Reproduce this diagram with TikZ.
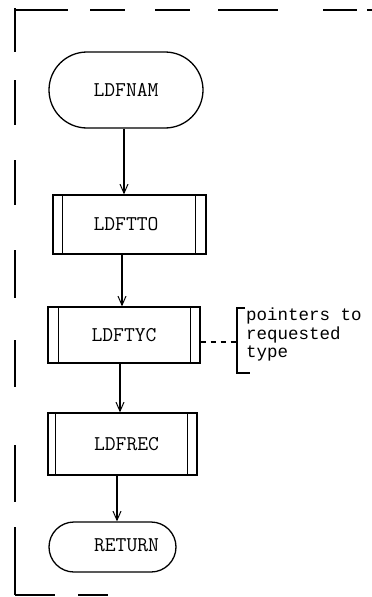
\documentclass[tikz,border=0pt]{standalone}
\usepackage{fontspec}
\newfontfamily\notefont{Liberation Mono}
\usetikzlibrary{shapes.misc,arrows.meta}
\begin{document}
\begin{tikzpicture}[x=1pt,y=-1pt,
  labelfont/.style={font=\fontsize{21}{21}\selectfont\ttfamily},
  term/.style={rounded rectangle, draw, line width=1.3pt, inner sep=0pt, labelfont},
  proc/.style={rectangle, draw, line width=1.3pt, inner sep=0pt, labelfont},
  strip/.style={line width=1.1pt},
  flow/.style={line width=1.1pt, -{Straight Barb[length=9pt,width=8pt,line width=1pt]}},
  frame/.style={line width=1.2pt},
  note/.style={font=\fontsize{17.5}{18.5}\selectfont\notefont, align=left, inner sep=0pt}]
\useasboundingbox (0,0) rectangle (372,597);

% dashed frame round the chart
\draw[frame, dash pattern=on 53pt off 22pt on 35pt off 30pt on 35pt off 28pt on 60pt off 45pt on 34pt off 10pt on 10pt]
  (15,10) -- (372,10);
\draw[frame, dash pattern=on 44pt off 28pt on 45pt off 35pt on 45pt off 45pt on 48pt off 42pt on 47pt off 58pt on 57pt off 25pt on 70pt]
  (15,8) -- (15,595);
\draw[frame, dash pattern=on 40pt off 23pt on 30pt off 300pt] (15,595) -- (108,595);

% flowchart nodes
\node[term, minimum width=154pt, minimum height=76pt] (nam) at (126,90) {LDFNAM};
\node[proc, minimum width=153pt, minimum height=59pt] (tto) at (129.5,224.5) {\hspace*{-7pt}LDFTTO};
\node[proc, minimum width=152pt, minimum height=56pt] (tyc) at (124,335) {LDFTYC};
\node[proc, minimum width=149pt, minimum height=62pt] (rec) at (122.5,444) {\raisebox{-5pt}{\hspace*{8pt}LDFREC}};
\node[term, minimum width=127pt, minimum height=50pt] (ret) at (112.5,547) {\raisebox{4pt}{\hspace*{28pt}RETURN}};

% side strips of the predefined-process boxes
\draw[strip] ([xshift=10pt]tto.north west) -- ([xshift=10pt]tto.south west);
\draw[strip] ([xshift=-11pt]tto.north east) -- ([xshift=-11pt]tto.south east);
\draw[strip] ([xshift=11pt]tyc.north west) -- ([xshift=11pt]tyc.south west);
\draw[strip] ([xshift=-10pt]tyc.north east) -- ([xshift=-10pt]tyc.south east);
\draw[strip] ([xshift=8pt]rec.north west) -- ([xshift=8pt]rec.south west);
\draw[strip] ([xshift=-10pt]rec.north east) -- ([xshift=-10pt]rec.south east);

% vertical flow lines
\coordinate (ax1) at (124,0);
\coordinate (ax2) at (122,0);
\coordinate (ax3) at (120,0);
\coordinate (ax4) at (117,0);
\draw[flow] (nam.south -| ax1) -- (tto.north -| ax1);
\draw[flow] (tto.south -| ax2) -- (tyc.north -| ax2);
\draw[flow] (tyc.south -| ax3) -- (rec.north -| ax3);
\draw[flow] (rec.south -| ax4) -- (ret.north -| ax4);

% annotation with bracket
\node[note, anchor=north west] (txt) at (246,308) {pointers to\\requested\\type};
\coordinate (brtop) at (237,308);
\coordinate (brbot) at (237,373);
\coordinate (brmid) at (237,342);
\draw[line width=1.1pt, dash pattern=on 5pt off 5pt] ([yshift=-7pt]tyc.east) -- (brmid);
\draw[line width=1.2pt] (245,308) -- (brtop) -- (brbot) -- (250,373);
\end{tikzpicture}
\end{document}
